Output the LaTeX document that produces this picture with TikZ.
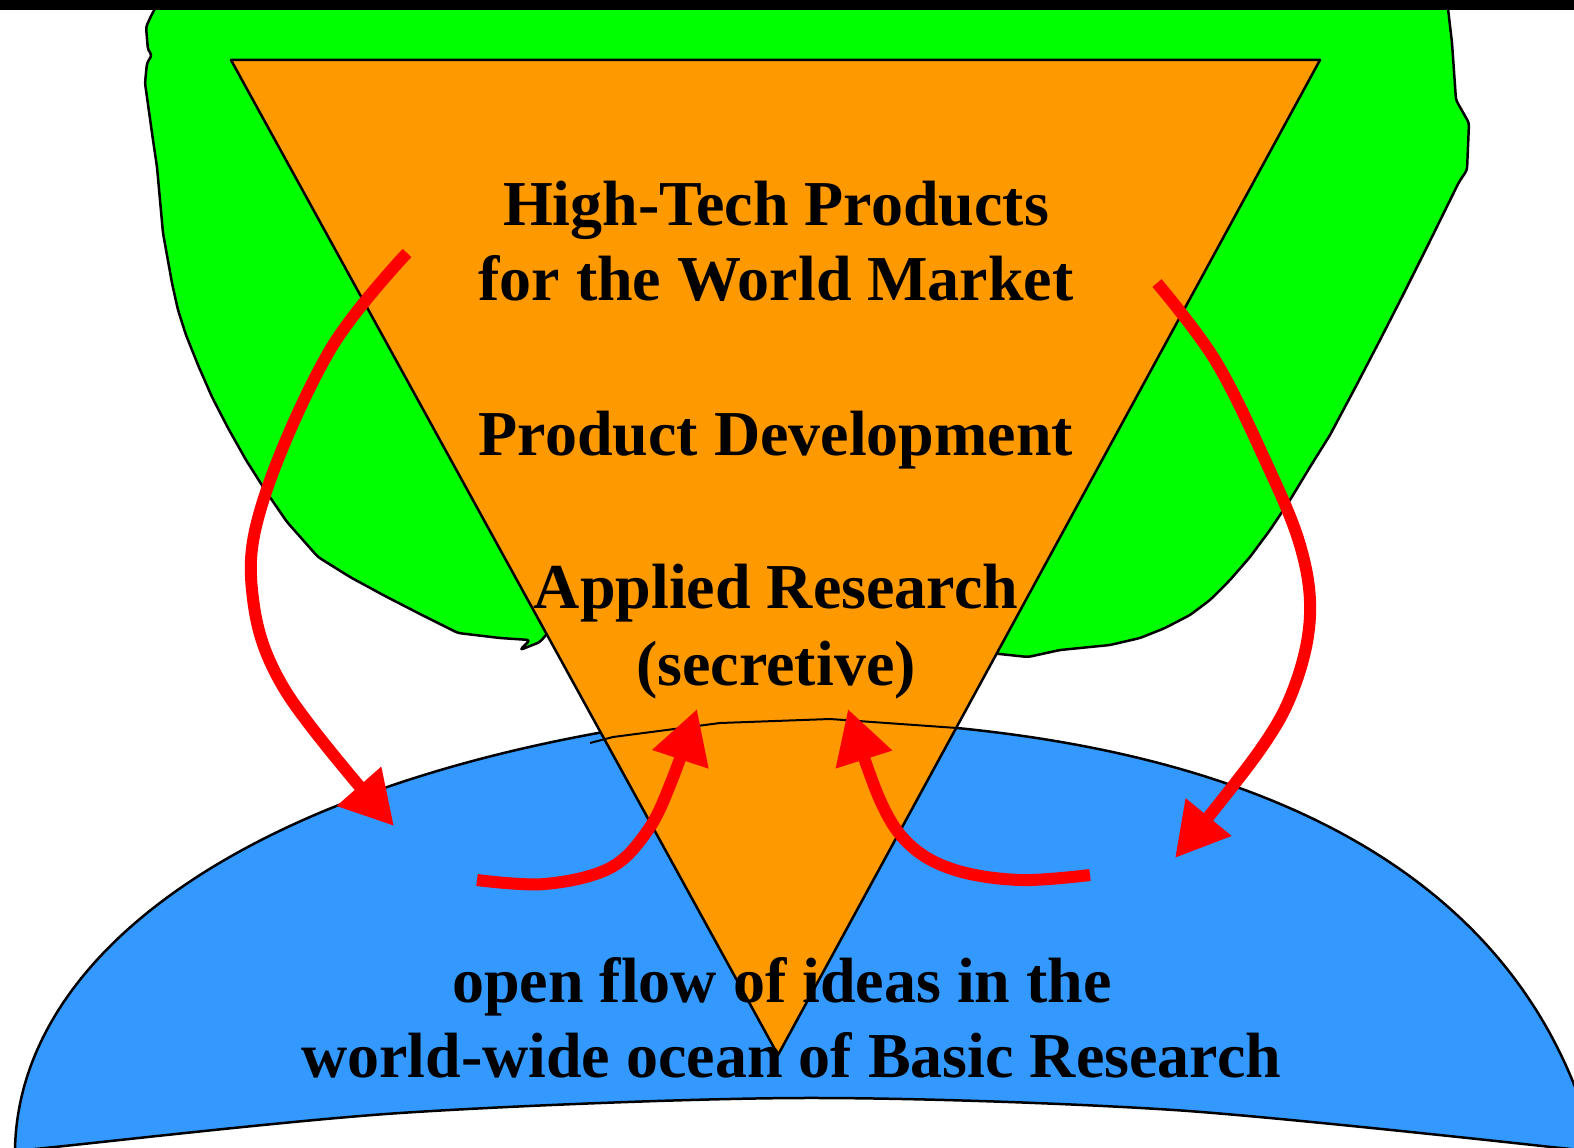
\documentclass[tikz,border=0pt]{standalone}
\usepackage{fontspec}
\setmainfont{Liberation Serif}
\usetikzlibrary{arrows.meta}
\definecolor{land}{RGB}{0,255,0}
\definecolor{wedge}{RGB}{255,153,0}
\definecolor{sea}{RGB}{51,153,255}
\begin{document}
\begin{tikzpicture}[x=1pt,y=-1pt,
  outline/.style={draw=black, line width=2.5pt, line join=round},
  flow/.style={draw=red, line width=12pt, line join=round,
    -{Triangle[length=53pt,width=56pt]}},
  txt/.style={font=\bfseries\fontsize{64}{76}\selectfont, inner sep=0pt, anchor=base}]
\useasboundingbox (0,0) rectangle (1574,1148);
\clip (0,0) rectangle (1574,1148);

% land mass behind the pyramid
\path[outline, fill=land, rounded corners=3pt]
  (160,0) -- (152,14) -- (146,27) -- (148,50) -- (152,55) -- (147,63) -- (145,83)
  -- (153,140) -- (157,167) -- (163,233) -- (172,283) -- (178,310) -- (186,335)
  -- (198,365) -- (212,397) -- (228,428) -- (246,460) -- (265,490) -- (287,522)
  -- (318,557) -- (350,577) -- (385,596) -- (420,614) -- (458,633) -- (500,638)
  -- (530,640) -- (520,650) -- (540,642) -- (552,628) -- (780,400) -- (990,653)
  -- (1028,657) -- (1060,650) -- (1110,645) -- (1140,638) -- (1165,628)
  -- (1190,615) -- (1210,600) -- (1230,580) -- (1250,557) -- (1270,530)
  -- (1290,500) -- (1310,467) -- (1330,435) -- (1355,388) -- (1380,340)
  -- (1404,293) -- (1427,247) -- (1459,182) -- (1467,170) -- (1469,123)
  -- (1456,100) -- (1452,43) -- (1447,0) -- cycle;

% ocean of basic research
\path[outline, fill=sea]
  (13,1170) -- (15,1148)
  .. controls (20,960) and (230,800) .. (598,733)
  .. controls (720,715) and (850,712) .. (957,728)
  .. controls (1280,760) and (1500,880) .. (1580,1100)
  -- (1600,1170) -- (1600,1152)
  -- plot[smooth, tension=0.5] coordinates {(1551,1147) (1174,1110) (800,1098)
    (400,1113) (45,1148) (0,1153)}
  -- cycle;

% pyramid
\coordinate (pl) at (231,60);
\coordinate (pr) at (1320,60);
\coordinate (pa) at (778,1055);
\path[outline, fill=wedge] (pl) -- (pr) -- (pa) -- cycle;

% shoreline seen through the pyramid
\coordinate (s1) at (590,743);
\coordinate (s2) at (957,728);
\draw[black, line width=2pt, line join=round]
  (s1) -- (613,737) -- (720,723) -- (830,719) -- (s2);

% top bar
\fill[black] (0,0) rectangle (1574,10);

% flows between market and ocean
\coordinate (a1s) at (407,253);
\coordinate (a1e) at (394,826);
\draw[flow] plot[smooth, tension=0.6] coordinates
  {(a1s) (330,350) (265,495) (252,590) (285,690) (a1e)};

\coordinate (a2s) at (477,880);
\coordinate (a2e) at (697,709);
\draw[flow] plot[smooth, tension=0.6] coordinates
  {(a2s) (545,884) (610,868) (648,830) (672,780) (a2e)};

\coordinate (a3s) at (1090,875);
\coordinate (a3e) at (848,709);
\draw[flow] plot[smooth, tension=0.6] coordinates
  {(a3s) (1020,880) (955,870) (910,845) (880,800) (a3e)};

\coordinate (a4s) at (1157,283);
\coordinate (a4e) at (1175,858);
\draw[flow] plot[smooth, tension=0.6] coordinates
  {(a4s) (1215,360) (1265,460) (1300,545) (1310,615) (1295,685) (1260,750) (a4e)};

% labels
\node[txt] (t1) at (776,225) {High-Tech Products};
\node[txt] (t2) at (776,300) {for the World Market};
\node[txt] (t3) at (776,455) {Product Development};
\node[txt] (t4) at (776,608) {Applied Research};
\node[txt] (t5) at (776,685) {(secretive)};
\node[txt] (o1) at (782,1002) {open flow of ideas in the};
\node[txt] (o2) at (791,1077) {world-wide ocean of Basic Research};
\end{tikzpicture}
\end{document}
